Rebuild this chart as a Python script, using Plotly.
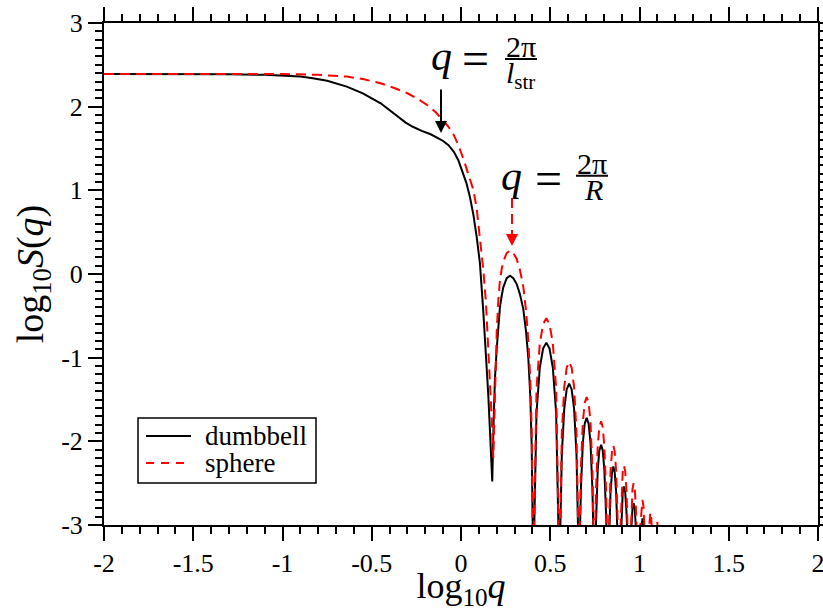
import plotly.graph_objects as go

# log10 q and log10 S(q) for the dumbbell structure
dumbbell_logq = [
    -2.0, -1.6, -1.3, -1.1, -1.0, -0.9, -0.83, -0.75, -0.64, -0.55, -0.45, -0.40,
    -0.36, -0.31, -0.27, -0.22, -0.17, -0.13, -0.10, -0.07, -0.04, -0.015, 0.005,
    0.03, 0.05, 0.07, 0.088, 0.106, 0.125, 0.14, 0.153, 0.165, 0.175,
    0.183, 0.19, 0.2, 0.209, 0.218, 0.228, 0.237, 0.256, 0.275, 0.293, 0.312,
    0.33, 0.349, 0.365, 0.377, 0.388, 0.396, 0.405,
    0.423, 0.4415, 0.460, 0.478, 0.496, 0.5145, 0.533, 0.551,
    0.565, 0.5785, 0.592, 0.606, 0.620, 0.6335, 0.647, 0.661,
    0.672, 0.6825, 0.693, 0.704, 0.715, 0.7255, 0.736, 0.747,
    0.756, 0.766, 0.775, 0.785, 0.794, 0.803, 0.813, 0.822,
    0.830, 0.838, 0.846, 0.8535, 0.861, 0.869, 0.877, 0.885,
    0.892, 0.899, 0.906, 0.913, 0.920, 0.927, 0.934, 0.941,
    0.954, 0.9605, 0.967, 0.9735, 0.980, 0.993,
    1.005, 1.011, 1.0165, 1.022, 1.028, 1.040,
]
dumbbell_logS = [
    2.39, 2.39, 2.388, 2.38, 2.372, 2.36, 2.34, 2.31, 2.24, 2.16, 2.04, 1.96,
    1.89, 1.81, 1.76, 1.71, 1.67, 1.625, 1.59, 1.54, 1.46, 1.36, 1.24,
    1.09, 0.92, 0.70, 0.44, 0.13, -0.45, -0.95, -1.45, -2.0, -2.48,
    -1.75, -1.25, -0.90, -0.60, -0.40, -0.26, -0.16, -0.05, -0.02, -0.05, -0.12,
    -0.24, -0.42, -0.70, -1.0, -1.45, -2.05, -3.6,
    -1.66, -1.12, -0.89, -0.82, -0.89, -1.12, -1.66, -3.6,
    -2.15, -1.61, -1.38, -1.31, -1.38, -1.61, -2.15, -3.6,
    -2.56, -2.02, -1.79, -1.72, -1.79, -2.02, -2.56, -3.6,
    -2.88, -2.34, -2.11, -2.04, -2.11, -2.34, -2.88, -3.6,
    -3.14, -2.60, -2.37, -2.30, -2.37, -2.60, -3.14, -3.6,
    -3.38, -2.84, -2.61, -2.54, -2.61, -2.84, -3.38, -3.6,
    -3.04, -2.81, -2.74, -2.81, -3.04, -3.6,
    -3.22, -2.99, -2.92, -2.99, -3.22, -3.6,
]

# log10 q and log10 S(q) for the solid sphere
sphere_logq = [
    -2.0, -1.0, -0.8, -0.64, -0.55, -0.45, -0.37, -0.30, -0.24, -0.19, -0.14, -0.10,
    -0.07, -0.04, -0.015, 0.013, 0.04, 0.07, 0.088, 0.106, 0.125, 0.14, 0.153,
    0.165, 0.175, 0.181,
    0.19, 0.2, 0.209, 0.218, 0.228, 0.237, 0.256, 0.275, 0.293, 0.312, 0.33,
    0.349, 0.365, 0.377, 0.388, 0.396, 0.405,
    0.423, 0.4415, 0.460, 0.478, 0.496, 0.5145, 0.533, 0.551,
    0.565, 0.5785, 0.592, 0.606, 0.620, 0.6335, 0.647, 0.661,
    0.672, 0.6825, 0.693, 0.704, 0.715, 0.7255, 0.736, 0.747,
    0.756, 0.766, 0.775, 0.785, 0.794, 0.803, 0.813, 0.822,
    0.830, 0.838, 0.846, 0.8535, 0.861, 0.869, 0.877, 0.885,
    0.892, 0.899, 0.906, 0.913, 0.920, 0.927, 0.934, 0.941,
    0.9475, 0.954, 0.9605, 0.967, 0.9735, 0.980, 0.9865, 0.993,
    1.005, 1.011, 1.0165, 1.022, 1.028, 1.040,
    1.050, 1.055, 1.0605, 1.066, 1.071, 1.081,
    1.090, 1.095, 1.099, 1.103, 1.108, 1.117,
]
sphere_logS = [
    2.39, 2.39, 2.38, 2.36, 2.33, 2.28, 2.22, 2.16, 2.09, 2.02, 1.93, 1.84,
    1.76, 1.66, 1.54, 1.38, 1.21, 1.0, 0.78, 0.45, 0.05, -0.35, -0.85,
    -1.35, -1.85, -2.2,
    -1.35, -0.70, -0.32, -0.08, 0.06, 0.15, 0.25, 0.28, 0.25, 0.18, 0.05,
    -0.15, -0.45, -0.79, -1.25, -1.86, -3.6,
    -1.37, -0.83, -0.60, -0.53, -0.60, -0.83, -1.37, -3.6,
    -1.89, -1.35, -1.12, -1.05, -1.12, -1.35, -1.89, -3.6,
    -2.31, -1.77, -1.54, -1.47, -1.54, -1.77, -2.31, -3.6,
    -2.60, -2.06, -1.83, -1.76, -1.83, -2.06, -2.60, -3.6,
    -2.89, -2.35, -2.12, -2.05, -2.12, -2.35, -2.89, -3.6,
    -3.13, -2.59, -2.36, -2.29, -2.36, -2.59, -3.13, -3.6,
    -3.34, -2.80, -2.57, -2.50, -2.57, -2.80, -3.34, -3.6,
    -3.0, -2.77, -2.70, -2.77, -3.0, -3.6,
    -3.15, -2.92, -2.85, -2.92, -3.15, -3.6,
    -3.26, -3.03, -2.96, -3.03, -3.26, -3.6,
]

series_names = ["dumbbell", "sphere"]
series_colors = ["black", "red"]

x_tick_vals = [-2, -1.5, -1, -0.5, 0, 0.5, 1, 1.5, 2]
x_tick_text = ["-2", "-1.5", "-1", "-0.5", "0", "0.5", "1", "1.5", "2"]
y_tick_vals = [-3, -2, -1, 0, 1, 2, 3]
y_tick_text = ["-3", "-2", "-1", "0", "1", "2", "3"]

SERIF = "Liberation Serif"
RED_DASH = "10px,6px"

# plot-area geometry (pixels) used to place the legend box in paper units
W, H = 823, 611
ML, MR, MT, MB = 104, 5, 23, 86
PW, PH = W - ML - MR, H - MT - MB


def px_to_paper_x(px):
    return (px - ML) / PW


def px_to_paper_y(py):
    return (H - MB - py) / PH


fig = go.Figure()
fig.add_trace(go.Scatter(
    x=dumbbell_logq, y=dumbbell_logS, mode="lines", name=series_names[0],
    line=dict(color=series_colors[0], width=2), showlegend=False,
))
fig.add_trace(go.Scatter(
    x=sphere_logq, y=sphere_logS, mode="lines", name=series_names[1],
    line=dict(color=series_colors[1], width=2, dash=RED_DASH), showlegend=False,
))

axis_common = dict(
    showline=True, linecolor="black", linewidth=2, mirror="ticks",
    ticks="outside", ticklen=14, tickwidth=1.5, tickcolor="black",
    showgrid=False, zeroline=False, automargin=False,
    ticklabeloverflow="allow",
    tickfont=dict(family=SERIF, size=26, color="black"),
    minor=dict(dtick=0.1, tick0=0, ticks="outside", ticklen=7,
               tickwidth=1.5, tickcolor="black", showgrid=False),
)

fig.update_xaxes(
    range=[-2, 2], tickmode="array", tickvals=x_tick_vals, ticktext=x_tick_text,
    title=dict(text="log<sub>10</sub><i>q</i>",
               font=dict(family=SERIF, size=36, color="black"), standoff=4),
    **axis_common,
)
fig.update_yaxes(
    range=[-3, 3], tickmode="array", tickvals=y_tick_vals, ticktext=y_tick_text,
    title=dict(text="log<sub>10</sub><i>S</i>(<i>q</i>)",
               font=dict(family=SERIF, size=38, color="black"), standoff=6),
    **axis_common,
)

annotations = []
shapes = []
big = dict(family=SERIF, size=42, color="black")
frac = dict(family=SERIF, size=30, color="black")
eq = dict(family=SERIF, size=48, color="black")

# q = 2π / l_str label with its arrow
annotations.append(dict(x=-0.112, y=2.60, xref="x", yref="y", text="<i>q</i>",
                        showarrow=False, font=big))
annotations.append(dict(x=0.083, y=2.57, xref="x", yref="y", text="=",
                        showarrow=False, font=eq))
annotations.append(dict(x=0.336, y=2.72, xref="x", yref="y", text="2π",
                        showarrow=False, font=frac))
annotations.append(dict(x=0.336, y=2.38, xref="x", yref="y",
                        text="<i>l</i><sub>str</sub>", showarrow=False, font=frac))
shapes.append(dict(type="line", xref="x", yref="y", x0=0.2465, x1=0.4258,
                   y0=2.570, y1=2.570, line=dict(color="black", width=2)))
annotations.append(dict(x=-0.112, y=1.685, ax=-0.112, ay=2.223, xref="x", yref="y",
                        axref="x", ayref="y", text="", showarrow=True,
                        arrowhead=2, arrowsize=1.2, arrowwidth=2, arrowcolor="black"))

# q = 2π / R label with its dashed arrow
annotations.append(dict(x=0.283, y=1.17, xref="x", yref="y", text="<i>q</i>",
                        showarrow=False, font=big))
annotations.append(dict(x=0.488, y=1.14, xref="x", yref="y", text="=",
                        showarrow=False, font=eq))
annotations.append(dict(x=0.734, y=1.32, xref="x", yref="y", text="2π",
                        showarrow=False, font=frac))
annotations.append(dict(x=0.7395, y=1.01, xref="x", yref="y", text="<i>R</i>",
                        showarrow=False, font=frac))
shapes.append(dict(type="line", xref="x", yref="y", x0=0.644, x1=0.8235,
                   y0=1.175, y1=1.175, line=dict(color="black", width=2)))
shapes.append(dict(type="line", xref="x", yref="y", x0=0.2857, x1=0.2857,
                   y0=0.908, y1=0.44, line=dict(color="red", width=2, dash=RED_DASH)))
annotations.append(dict(x=0.2857, y=0.335, xref="x", yref="y", ax=0, ay=-10,
                        text="", showarrow=True, arrowhead=2, arrowsize=1.2,
                        arrowwidth=2, arrowcolor="red", standoff=0))

# legend box with line samples
shapes.append(dict(type="rect", xref="paper", yref="paper",
                   x0=px_to_paper_x(138), x1=px_to_paper_x(316),
                   y0=px_to_paper_y(483), y1=px_to_paper_y(418),
                   line=dict(color="black", width=1.5), fillcolor="white"))
legend_rows = [436, 463]
for name, color, row in zip(series_names, series_colors, legend_rows):
    yp = px_to_paper_y(row)
    shapes.append(dict(type="line", xref="paper", yref="paper",
                       x0=px_to_paper_x(146), x1=px_to_paper_x(191), y0=yp, y1=yp,
                       line=dict(color=color, width=2,
                                 dash="solid" if color == "black" else "8px,7px")))
    annotations.append(dict(x=px_to_paper_x(203), y=yp, xref="paper", yref="paper",
                            xanchor="left", yanchor="middle", text=name, showarrow=False,
                            font=dict(family=SERIF, size=27, color="black")))

fig.update_layout(
    width=W, height=H, autosize=False,
    margin=dict(l=ML, r=MR, t=MT, b=MB),
    paper_bgcolor="white", plot_bgcolor="white",
    annotations=annotations, shapes=shapes,
    showlegend=False,
)

fig.write_html("out.html", config={"responsive": False})
